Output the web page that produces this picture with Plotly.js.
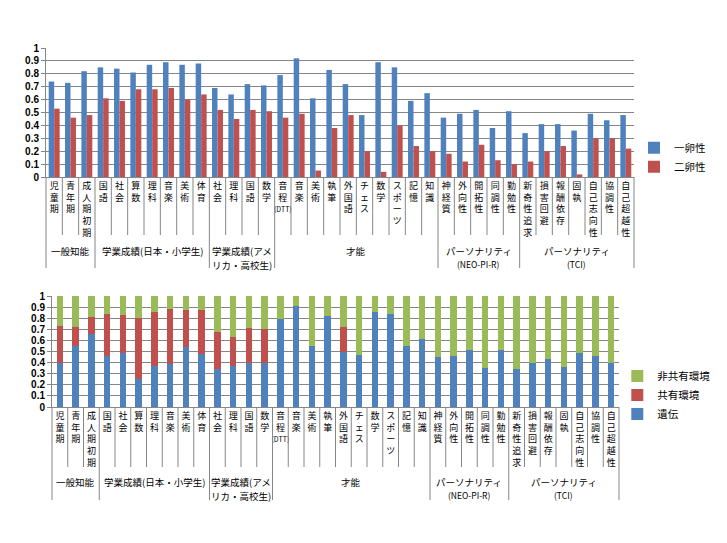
<!DOCTYPE html>
<html>
<head>
<meta charset="utf-8">
<script src="https://cdn.plot.ly/plotly-3.0.1.min.js"></script>
<style>
  html, body { margin: 0; padding: 0; background: #fff; }
  #twins { width: 727px; height: 280px; }
  #ace { width: 727px; height: 263px; }
</style>
</head>
<body>
<div id="twins"></div>
<div id="ace"></div>
<script>
// 項目
const categories = ['児童期', '青年期', '成人期初期',
    '国語', '社会', '算数', '理科', '音楽', '美術', '体育',
    '社会', '理科', '国語', '数学',
    '音程(DTT)', '音楽', '美術', '執筆', '外国語', 'チェス', '数学', 'スポーツ', '記憶', '知識',
    '神経質', '外向性', '開拓性', '同調性', '勤勉性',
    '新奇性追求', '損害回避', '報酬依存', '固執', '自己志向性', '協調性', '自己超越性'];

// 大分類（1行目・2行目）
const groupNames = ['一般知能', '学業成績(日本・小学生)', '学業成績(アメ', '才能', 'パーソナリティ', 'パーソナリティ'];
const groupSubs = ['', '', 'リカ・高校生)', '', '(NEO-PI-R)', '(TCI)'];
const groupSubSmall = [false, false, false, false, true, true];
const groupSizes = [3, 7, 4, 10, 5, 7];

// 双生児相関
const mzCorr = [0.74, 0.73, 0.82,
    0.85, 0.84, 0.81, 0.87, 0.89, 0.87, 0.88,
    0.69, 0.64, 0.72, 0.71,
    0.79, 0.92, 0.61, 0.83, 0.72, 0.48, 0.89, 0.85, 0.59, 0.65,
    0.46, 0.49, 0.52, 0.38, 0.51,
    0.34, 0.41, 0.41, 0.36, 0.49, 0.44, 0.48];
const dzCorr = [0.53, 0.46, 0.48,
    0.61, 0.59, 0.68, 0.68, 0.69, 0.60, 0.64,
    0.52, 0.45, 0.52, 0.51,
    0.46, 0.49, 0.05, 0.38, 0.48, 0.20, 0.04, 0.40, 0.24, 0.20,
    0.18, 0.12, 0.25, 0.13, 0.10,
    0.12, 0.20, 0.24, 0.02, 0.30, 0.30, 0.22];

// 遺伝・共有環境・非共有環境
const genetic = [0.40, 0.55, 0.66,
    0.46, 0.49, 0.25, 0.37, 0.39, 0.54, 0.48,
    0.34, 0.37, 0.40, 0.40,
    0.79, 0.91, 0.55, 0.82, 0.50, 0.47, 0.86, 0.84, 0.55, 0.61,
    0.45, 0.46, 0.51, 0.35, 0.51,
    0.34, 0.40, 0.43, 0.36, 0.49, 0.46, 0.40];
const sharedEnv = [0.33, 0.17, 0.15,
    0.38, 0.34, 0.55, 0.49, 0.49, 0.33, 0.39,
    0.34, 0.26, 0.31, 0.30,
    0, 0, 0, 0, 0.22, 0, 0, 0, 0, 0,
    0, 0, 0, 0, 0,
    0, 0, 0, 0, 0, 0, 0];
const nonsharedEnv = [0.27, 0.28, 0.19,
    0.16, 0.17, 0.20, 0.14, 0.12, 0.13, 0.13,
    0.32, 0.37, 0.29, 0.30,
    0.21, 0.09, 0.45, 0.18, 0.28, 0.53, 0.14, 0.16, 0.45, 0.39,
    0.55, 0.54, 0.49, 0.65, 0.49,
    0.66, 0.60, 0.57, 0.64, 0.51, 0.54, 0.60];

const BLUE = '#4F81BD', RED = '#C0504D', GREEN = '#9BBB59', GRID = '#868686';
const JP = '"Noto Sans CJK JP", "Noto Sans", sans-serif';

const xIdx = categories.map((_, i) => i);

// 縦書き風のラベル（括弧部分は横のまま小さく）
function tate(s) {
    return s.match(/\([^)]*\)|./g)
        .map(t => t.length > 1 ? '<span style="font-size:7px">' + t + '</span>' : t)
        .join('<br>');
}
const tickLabels = categories.map(tate);

// 区切り線と大分類ラベル
function decorations(catLen, groupLen, labelShift) {
    const shapes = [];
    const annotations = [];
    const n = categories.length;
    const edges = [0];
    groupSizes.forEach(g => edges.push(edges[edges.length - 1] + g));
    for (let b = 0; b <= n; b++) {
        const isGroup = edges.includes(b);
        shapes.push({
            type: 'line', xref: 'x domain', yref: 'paper',
            x0: b / n, x1: b / n,
            ysizemode: 'pixel', yanchor: 0, y0: 0, y1: -(isGroup ? groupLen : catLen),
            line: { color: GRID, width: 1 }
        });
    }
    groupNames.forEach((name, k) => {
        const cx = (edges[k] + edges[k + 1] - 1) / 2;
        annotations.push({
            xref: 'x', yref: 'paper', x: cx, y: 0,
            yanchor: 'top', yshift: -labelShift,
            text: name, showarrow: false,
            font: { family: JP, size: 9.5, color: '#000' }
        });
        if (groupSubs[k]) {
            annotations.push({
                xref: 'x', yref: 'paper', x: cx, y: 0,
                yanchor: 'top', yshift: -labelShift - 14,
                text: groupSubs[k], showarrow: false,
                font: { family: JP, size: groupSubSmall[k] ? 8.5 : 9.5, color: '#000' }
            });
        }
    });
    return { shapes, annotations };
}

function xAxis() {
    return {
        range: [-0.5, categories.length - 0.5],
        tickvals: xIdx, ticktext: tickLabels, tickangle: 0,
        showgrid: false, zeroline: false,
        showline: true, linecolor: GRID, linewidth: 1,
        ticks: '',
        tickfont: { family: JP, size: 9, color: '#000' },
        fixedrange: true
    };
}
function yAxis() {
    return {
        range: [0, 1], dtick: 0.1,
        showgrid: true, gridcolor: GRID, gridwidth: 1,
        zeroline: false,
        showline: true, linecolor: GRID, linewidth: 1,
        ticks: 'outside', ticklen: 4, tickcolor: GRID,
        tickfont: { family: 'Liberation Sans, Arial, sans-serif', size: 10, color: '#000', weight: 'bold' },
        fixedrange: true
    };
}

const config = { displayModeBar: false, staticPlot: true };

// 上: 一卵性・二卵性の相関
const topDeco = decorations(58, 91, 65);
Plotly.newPlot('twins', [
    { type: 'bar', name: '一卵性', x: xIdx, y: mzCorr, marker: { color: BLUE } },
    { type: 'bar', name: '二卵性', x: xIdx, y: dzCorr, marker: { color: RED } }
], {
    width: 727, height: 280,
    margin: { l: 46, r: 93, t: 48, b: 103 },
    paper_bgcolor: '#fff', plot_bgcolor: '#fff',
    barmode: 'group', bargap: 0.33, bargroupgap: 0,
    xaxis: xAxis(), yaxis: yAxis(),
    showlegend: true,
    legend: {
        x: 1.0, y: 0.34, xanchor: 'left', yanchor: 'top',
        font: { family: JP, size: 10.5, color: '#000' },
        bgcolor: 'rgba(0,0,0,0)', itemwidth: 30, tracegroupgap: 0
    },
    shapes: topDeco.shapes,
    annotations: topDeco.annotations
}, config);

// 下: 遺伝・共有環境・非共有環境の寄与
const botDeco = decorations(60, 93, 66);
Plotly.newPlot('ace', [
    { type: 'bar', name: '遺伝', x: xIdx, y: genetic, marker: { color: BLUE } },
    { type: 'bar', name: '共有環境', x: xIdx, y: sharedEnv, marker: { color: RED } },
    { type: 'bar', name: '非共有環境', x: xIdx, y: nonsharedEnv, marker: { color: GREEN } }
], {
    width: 727, height: 263,
    margin: { l: 52, r: 90, t: 16, b: 136 },
    paper_bgcolor: '#fff', plot_bgcolor: '#fff',
    barmode: 'stack', bargap: 0.6,
    xaxis: xAxis(), yaxis: yAxis(),
    showlegend: true,
    legend: {
        x: 0.997, y: 0.41, xanchor: 'left', yanchor: 'top',
        traceorder: 'reversed',
        font: { family: JP, size: 10.5, color: '#000' },
        bgcolor: 'rgba(0,0,0,0)', itemwidth: 30, tracegroupgap: 0
    },
    shapes: botDeco.shapes,
    annotations: botDeco.annotations
}, config);
</script>
</body>
</html>
